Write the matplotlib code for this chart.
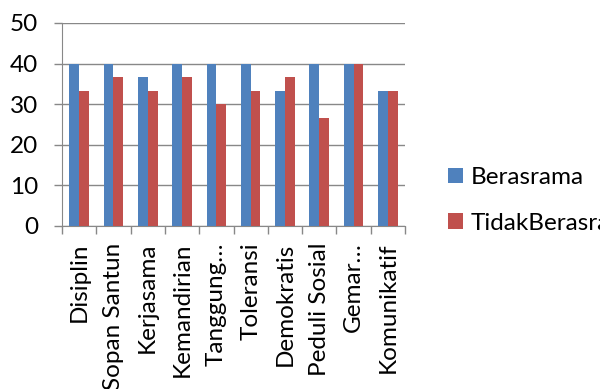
import numpy as np
import matplotlib
matplotlib.use("Agg")
import matplotlib.pyplot as plt
from matplotlib.patches import Patch

plt.rcParams["font.family"] = ["Lato", "DejaVu Sans"]

categories = ["Disiplin", "Sopan Santun", "Kerjasama", "Kemandirian", "Tanggung…",
              "Toleransi", "Demokratis", "Peduli Sosial", "Gemar…", "Komunikatif"]
berasrama = [40, 40, 36.7, 40, 40, 40, 33.3, 40, 40, 33.3]
tidak_berasrama = [33.3, 36.7, 33.3, 36.7, 30, 33.3, 36.7, 26.7, 40, 33.3]
series_names = ["Berasrama", "TidakBerasrama"]
y_ticks = [0, 10, 20, 30, 40, 50]

BLUE = "#4F81BD"
RED = "#C0504D"
GRID = "#888888"
FS = 17.5

fig = plt.figure(figsize=(6, 3.89), dpi=100)
ax = fig.add_axes([62 / 600, 1 - 226 / 389, (405 - 62) / 600, (226 - 23) / 389])

x = np.arange(len(categories))
w = 1 / 3.5
ax.bar(x - w / 2, berasrama, width=w, color=BLUE, zorder=3)
ax.bar(x + w / 2, tidak_berasrama, width=w, color=RED, zorder=3)

ax.set_xlim(-0.5, len(categories) - 0.5)
ax.set_ylim(0, 50)
ax.set_yticks(y_ticks)
ax.set_yticklabels([str(v) for v in y_ticks], fontsize=FS)
ax.yaxis.grid(True, color=GRID, linewidth=1, zorder=0)

ax.set_xticks(x)
ax.set_xticklabels(categories, rotation=90, fontsize=FS, va="top", ha="center")
ax.set_xticks(np.arange(-0.5, len(categories)), minor=True)
ax.tick_params(axis="x", which="major", length=0, pad=12)
ax.tick_params(axis="x", which="minor", length=6, color=GRID, width=1)
ax.tick_params(axis="y", length=6, color=GRID, width=1, pad=11)

for side in ["top", "right"]:
    ax.spines[side].set_visible(False)
ax.spines["left"].set_color(GRID)
ax.spines["bottom"].set_color(GRID)

handles = [Patch(facecolor=BLUE), Patch(facecolor=RED)]
fig.legend(handles, series_names, loc="center left",
           bbox_to_anchor=(448 / 600, 1 - 200.5 / 389), frameon=False,
           fontsize=FS, handlelength=0.6, handleheight=0.6, handletextpad=0.35,
           labelspacing=1.0, borderpad=0, borderaxespad=0)

fig.savefig("out.png", dpi=100)
